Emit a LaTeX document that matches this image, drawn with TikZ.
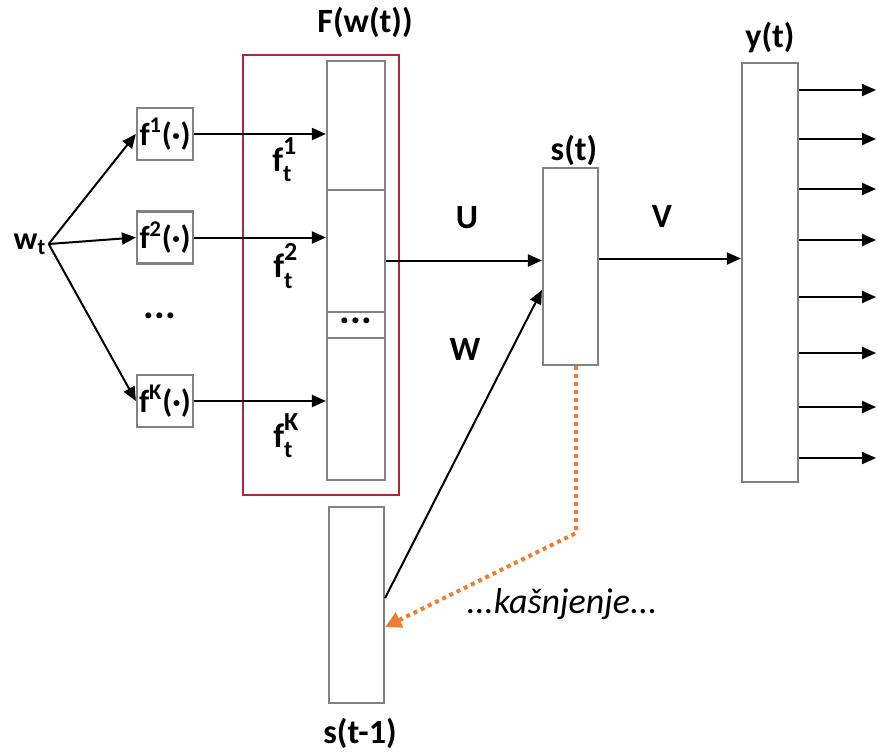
\documentclass[tikz,border=0pt]{standalone}
\usepackage{fontspec}
\setmainfont{Carlito}
\usetikzlibrary{arrows.meta}

\definecolor{boxgray}{RGB}{130,130,130}
\definecolor{framered}{RGB}{170,40,60}
\definecolor{delayorange}{RGB}{237,125,49}

% f with t below and k above
\newcommand{\ftk}[1]{f\rlap{\raisebox{0.5em}{\fontsize{13}{14}\selectfont #1}}\raisebox{-0.3em}{\fontsize{12}{14}\selectfont t}}

\begin{document}
\begin{tikzpicture}[x=0.5pt,y=-0.5pt,
  lbl/.style={font=\fontsize{17}{20}\selectfont\bfseries},
  cell/.style={draw=boxgray,line width=1.1pt,minimum width=29pt,inner sep=0pt},
  fbox/.style={cell,minimum width=28pt,minimum height=26pt,font=\fontsize{16}{18}\selectfont\bfseries},
  arr/.style={line width=1pt,-{Triangle[length=7pt,width=6pt]}}]
  \useasboundingbox (0,0) rectangle (878,751);
  % the input word and its feature functions
  \node[font=\fontsize{16}{18}\selectfont\bfseries,inner sep=1pt] (wt) at (30,244) {w\textsubscript{t}};
  \node[fbox] (f1) at (165,134) {f\textsuperscript{1}(·)};
  \node[fbox] (f2) at (165,237.5) {f\textsuperscript{2}(·)};
  \node[fbox] (fK) at (165,401) {f\textsuperscript{K}(·)};
  \node[font=\fontsize{20}{20}\selectfont\bfseries] (ldots) at (160,316) {...};
  \draw[arr] (wt.east) -- (f1.west);
  \draw[arr] (wt.east) -- (f2.west);
  \draw[arr] (wt.east) -- (fK.west);
  % the feature vector F(w(t))
  \node[draw=framered,line width=1.2pt,minimum width=78pt,minimum height=220pt] (frame) at (321,275) {};
  \node[lbl] (flbl) at (365,22) {F(w(t))};
  \node[cell,minimum height=64.5pt] (cell1) at (356,125.5) {};
  \node[cell,minimum height=61pt] (cell2) at (356,251) {};
  \node[cell,minimum height=13pt] (celld) at (356,325) {};
  \node[font=\fontsize{20}{20}\selectfont\bfseries,inner sep=0pt] (cdots) at (356,321) {...};
  \node[cell,minimum height=71pt] (cellK) at (356,409) {};
  \draw[arr] (f1.east) -- (f1.east -| cell1.west);
  \draw[arr] (f2.east) -- (f2.east -| cell2.west);
  \draw[arr] (fK.east) -- (fK.east -| cellK.west);
  \node[lbl] (ft1) at (282,160) {\ftk{1}};
  \node[lbl] (ft2) at (283,266) {\ftk{2}};
  \node[lbl] (ftK) at (283,436) {\ftk{K}};
  % hidden state, output, previous state
  \node[cell,minimum width=27.5pt,minimum height=98.5pt] (st) at (570.5,266.5) {};
  \node[lbl] (stlbl) at (574,150) {s(t)};
  \node[cell,minimum width=28pt,minimum height=209.5pt] (yt) at (770,272.5) {};
  \node[lbl] (ytlbl) at (770,38) {y(t)};
  \node[cell,minimum width=27.5pt,minimum height=98pt] (stm1) at (356.5,605) {};
  \node[lbl] (stm1lbl) at (360,733) {s(t-1)};
  \coordinate (uin) at ([yshift=3pt]st.west);
  \coordinate (vout) at ([yshift=4pt]st.east);
  \draw[arr] (uin -| cell2.east) -- (uin);
  \draw[arr] (vout) -- (vout -| yt.west);
  \draw[arr] ([yshift=3.5pt]stm1.east) -- ([yshift=-11.75pt]st.west);
  \node[lbl] (ulbl) at (467,218) {U};
  \node[lbl] (vlbl) at (662,216) {V};
  \node[lbl] (wlbl) at (465,349) {W};
  \foreach \y in {90,139,189,240,297,353,407,458}
    \draw[arr] (yt.east |- 0,\y) -- (876,\y);
  % the delay
  \coordinate (bend) at (576,533);
  \draw[delayorange,line width=2pt,dash pattern=on 2pt off 2pt,-{Triangle[length=8pt,width=8pt]}]
    ([xshift=2.75pt]st.south) -- (bend) -- ([yshift=-11pt]stm1.east);
  \node[font=\fontsize{18}{20}\selectfont\itshape] (delay) at (562,604) {...kašnjenje...};
\end{tikzpicture}
\end{document}
